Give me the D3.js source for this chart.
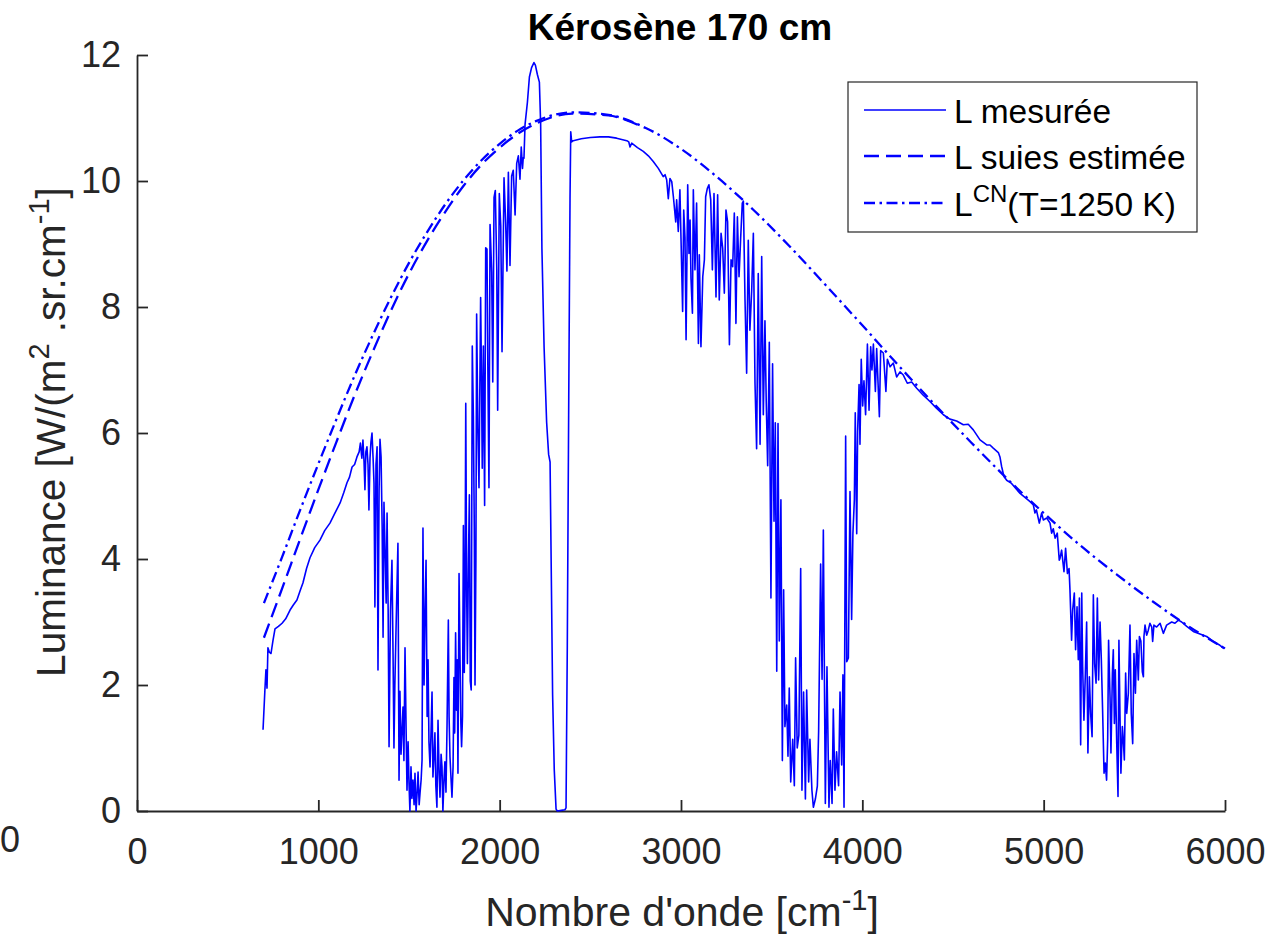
<!DOCTYPE html>
<html><head><meta charset="utf-8">
<script src="https://cdn.jsdelivr.net/npm/d3@7/dist/d3.min.js"></script>
<style>body{margin:0;background:#fff}text{font-family:"Liberation Sans",Arial,Helvetica,sans-serif}</style>
</head><body><svg id="c" width="1271" height="936"></svg>
<script>
const xTicks=[0,1000,2000,3000,4000,5000,6000];
const yTicks=[0,2,4,6,8,10,12];
const planckNu=[700,800,900,1000,1100,1200,1300,1400,1500,1600,1700,1800,1900,2000,2100,2200,2400,2600,2800,3000,3200,3400,3600,3800,4000,4200,4400,4600,4800,5000,5200,5400,5600,5800,6000];
const lcnL=[3.30,4.03,4.78,5.51,6.22,6.91,7.55,8.15,8.70,9.19,9.63,10.01,10.33,10.59,10.80,10.95,11.09,11.05,10.85,10.51,10.06,9.54,8.96,8.34,7.71,7.07,6.45,5.85,5.27,4.73,4.22,3.76,3.33,2.93,2.58];
const suiesNu=[700,800,900,1000,1100,1200,1300,1400,1500,1600,1700,1800,1900,2000,2100,2200,2400,2600,2800];
const suiesL=[2.75,3.53,4.32,5.10,5.86,6.60,7.29,7.94,8.53,9.05,9.51,9.92,10.26,10.53,10.75,10.91,11.07,11.04,10.84];
const measured=[
[695,1.29],[705,1.9],[711,2.24],[717,1.95],[722,2.59],[730,2.52],[739,2.5],[750,2.71],[761,2.89],[780,2.93],[800,2.98],[820,3.05],[844,3.19],[862,3.27],[882,3.35],[900,3.5],[915,3.62],[935,3.85],[954,4.02],[980,4.18],[1009,4.3],[1035,4.45],[1064,4.57],[1090,4.72],[1120,4.89],[1140,5.05],[1158,5.21],[1172,5.3],[1186,5.46],[1200,5.5],[1213,5.62],[1225,5.7],[1232,5.84],
[1240,5.6],[1246,5.89],[1252,5.55],[1257,5.1],[1262,5.7],[1268,5.78],[1274,5.5],[1279,4.78],[1285,5.6],[1290,5.85],[1296,6.0],[1302,5.6],[1307,5.2],[1312,3.24],[1318,5.5],[1324,5.78],[1329,2.24],[1335,5.1],[1340,5.9],[1346,5.62],[1352,4.5],[1357,2.76],[1362,4.9],[1368,4.14],[1374,3.3],[1379,4.73],[1385,3.2],[1390,1.02],[1398,3.2],[1406,3.98],[1412,2.5],[1417,1.0],[1422,2.0],[1428,2.82],[1434,3.6],[1439,4.25],[1445,0.49],[1450,1.9],[1456,0.9],[1461,1.24],[1467,1.65],[1472,0.8],[1478,2.59],[1484,1.3],[1489,0.33],[1495,1.1],[1500,0.44],[1505,0.0],[1511,0.7],[1516,0.2],[1522,0.49],[1528,0.1],[1533,0.6],[1539,0.0],[1545,0.3],[1550,0.62],[1556,0.1],[1561,0.29],[1567,0.5],[1572,0.81],[1577,4.49],[1583,2.0],[1588,3.03],[1594,3.98],[1600,1.5],[1605,2.4],[1610,1.1],[1616,0.7],[1622,1.3],[1627,1.89],[1632,0.54],[1638,0.9],[1643,1.24],[1648,0.4],[1654,0.06],[1660,1.44],[1666,0.6],[1671,0.22],[1677,0.9],[1682,0.7],[1687,0.0],[1693,0.5],[1698,0.78],[1704,0.3],[1710,1.4],[1717,3.03],[1721,1.5],[1726,0.86],[1732,0.5],[1737,0.22],[1743,0.7],[1748,2.12],[1752,1.24],[1757,2.83],[1762,1.6],[1766,2.4],[1770,0.6],[1776,3.77],[1781,2.5],[1786,1.4],[1790,1.02],[1795,1.5],[1800,4.53],[1805,2.2],[1809,3.43],[1813,6.47],[1818,3.5],[1822,2.34],[1828,4.0],[1833,5.02],[1838,2.06],[1843,1.92],[1849,7.38],[1855,6.27],[1860,4.5],[1864,2.0],[1869,4.0],[1873,7.89],[1880,6.0],[1886,5.13],[1890,6.5],[1895,8.15],[1900,6.8],[1904,5.44],[1910,7.38],[1917,4.85],[1923,8.94],[1930,8.92],[1935,7.0],[1941,5.13],[1947,9.31],[1956,8.55],[1962,6.81],[1969,9.74],[1976,9.85],[1984,8.6],[1989,6.36],[1998,9.80],[2006,9.29],[2013,7.29],[2024,10.05],[2033,9.34],[2040,8.57],[2048,10.14],[2057,8.66],[2066,10.08],[2075,10.17],[2085,9.46],[2094,10.28],[2103,10.40],[2112,10.03],[2119,10.54],[2126,10.2],[2130,10.37],
[2134,10.36],[2140,10.9],[2153,11.25],[2164,11.65],[2176,11.80],[2189,11.88],[2197,11.84],[2208,11.69],[2219,11.57],[2226,10.9],[2233,8.93],[2245,7.36],[2259,6.17],[2270,5.66],[2278,5.54],[2283,4.21],[2292,1.84],[2301,0.66],[2311,0.03],[2318,0.0],[2340,0.01],[2360,0.02],[2366,0.05],[2373,2.63],[2381,6.57],[2388,9.72],[2392,10.78],[2397,10.62],[2406,10.64],[2450,10.67],[2500,10.69],[2553,10.70],[2600,10.70],[2645,10.68],[2701,10.64],[2712,10.62],[2719,10.54],[2728,10.6],[2760,10.53],[2792,10.47],[2820,10.4],[2847,10.31],[2875,10.2],[2902,10.07],
[2912,10.1],[2921,10.02],[2930,9.72],[2939,10.04],[2949,9.99],[2958,9.75],[2971,9.35],[2976,9.70],[2985,9.2],[2994,9.86],[3000,9.09],[3009,7.93],[3015,9.54],[3022,9.1],[3028,7.48],[3037,9.94],[3044,8.85],[3050,9.38],[3055,8.46],[3063,7.9],[3068,9.86],[3077,8.59],[3086,9.65],[3096,7.42],[3101,8.83],[3110,7.37],[3120,8.48],[3129,8.75],[3136,9.75],[3145,9.88],[3154,9.94],[3164,9.7],[3173,8.59],[3182,9.8],[3193,8.16],[3202,9.78],[3211,8.11],[3221,9.17],[3230,8.93],[3239,8.22],[3248,9.54],[3257,9.35],[3267,7.40],[3276,8.75],[3285,8.64],[3294,9.49],[3303,7.74],[3311,9.43],[3320,8.48],[3329,9.09],[3338,9.65],[3344,9.68],[3353,8.11],[3362,6.95],[3371,9.06],[3380,7.63],[3390,8.27],[3399,9.17],[3408,6.8],
[3417,5.75],[3426,8.53],[3436,5.82],[3445,8.80],[3454,6.29],[3463,7.78],[3470,6.5],[3478,5.48],[3487,7.44],[3496,3.38],[3505,7.10],[3513,4.60],[3520,6.16],[3528,2.22],[3535,6.15],[3542,2.70],[3551,4.94],[3559,0.80],[3566,3.51],[3573,1.34],[3583,1.68],[3590,0.87],[3597,1.95],[3605,0.46],[3616,1.14],[3625,0.40],[3632,2.43],[3641,1.0],[3650,1.2],[3660,3.85],[3667,0.33],[3676,1.89],[3686,0.19],[3693,1.92],[3704,0.46],[3711,1.14],[3722,0.33],[3730,0.06],[3741,0.19],[3752,0.4],[3759,1.27],[3770,3.92],[3778,2.09],[3785,4.46],[3796,0.12],[3805,2.29],[3816,0.06],[3823,0.80],[3833,0.12],[3840,1.62],[3849,0.33],[3858,0.94],[3869,0.40],[3877,1.89],[3886,0.73],[3893,2.16],[3899,0.06],[3908,5.95],[3914,2.37],[3923,2.43],[3932,5.07],[3941,3.04],[3948,4.40],[3956,4.94],[3961,6.32],[3969,4.40],[3974,6.02],[3982,6.77],[3987,5.82],[3994,7.17],[4002,6.43],[4009,6.83],[4018,6.29],[4028,7.41],[4037,6.36],[4046,7.37],[4053,7.0],[4061,7.41],[4072,6.66],[4079,7.34],[4094,6.26],[4101,7.31],[4116,7.27],[4130,6.66],[4138,7.17],[4153,7.05],[4171,7.11],[4189,6.89],[4208,6.97],[4226,6.92],[4248,6.79],[4272,6.81],[4300,6.71],[4336,6.60],[4373,6.50],[4410,6.39],[4447,6.29],[4483,6.22],[4520,6.19],[4557,6.13],[4584,6.14],[4612,6.05],[4649,5.89],[4686,5.81],[4704,5.81],[4722,5.76],[4750,5.69],[4759,5.62],[4768,5.47],[4781,5.31],[4796,5.25],[4823,5.20],[4870,5.04],[4925,4.91],[4943,4.86],[4952,4.73],[4960,4.78],[4976,4.57],[4989,4.73],[4998,4.62],[5017,4.65],[5035,4.57],[5044,4.41],[5053,4.48],[5063,4.33],[5075,4.41],[5086,3.98],[5090,4.01],[5099,4.14],[5112,3.80],[5121,4.17],[5131,3.77],[5140,3.85],[5145,3.51],[5154,2.71],[5160,3.19],
[5169,3.46],[5176,2.56],[5184,3.24],[5191,2.40],[5197,3.38],[5204,1.05],[5210,3.46],[5215,2.29],[5222,1.44],[5230,2.19],[5237,3.0],[5244,0.92],[5252,2.13],[5259,1.55],[5267,1.18],[5274,3.43],[5281,2.34],[5289,2.03],[5296,3.38],[5303,2.08],[5311,3.0],[5318,2.40],[5325,1.60],[5333,0.60],[5340,0.76],[5347,0.49],[5353,1.13],[5358,2.71],[5366,1.81],[5371,0.92],[5379,2.19],[5384,2.56],[5390,1.39],[5395,2.24],[5403,1.07],[5410,0.23],[5415,2.71],[5421,1.50],[5426,0.6],[5434,1.34],[5439,1.13],[5445,0.81],[5452,2.19],[5458,1.55],[5467,1.87],[5476,2.95],[5483,1.55],[5491,1.07],[5498,2.50],[5506,1.87],[5513,2.71],[5522,2.08],[5528,2.77],[5536,2.7],[5544,2.21],[5550,2.13],[5553,2.77],[5559,2.95],[5568,2.79],[5577,2.87],[5586,2.98],[5596,2.92],[5601,2.69],[5608,2.95],[5623,2.92],[5642,2.98],[5660,2.82],[5678,2.95],[5706,3.0],[5724,2.98],[5743,3.03],[5761,3.0],[5789,2.93],[5825,2.85],[5862,2.81],[5899,2.77],[5936,2.69],[5972,2.63],[5994,2.58],[6000,2.6]
];
const legendLabels=["L mesurée","L suies estimée","LCN"];

const svg=d3.select('#c');
const x=d3.scaleLinear().domain([0,6000]).range([137,1225]);
const y=d3.scaleLinear().domain([0,12]).range([811,55]);
const axCol="#262626";

// axes
const gx=svg.append('g').attr('transform','translate(0,811)')
  .call(d3.axisBottom(x).tickValues(xTicks).tickFormat(d3.format('d')).tickSizeInner(-11).tickSizeOuter(0).tickPadding(27));
const gy=svg.append('g').attr('transform','translate(137,0)')
  .call(d3.axisLeft(y).tickValues(yTicks).tickFormat(d3.format('d')).tickSizeInner(-11).tickSizeOuter(0).tickPadding(16));
[gx,gy].forEach(g=>{
  g.select('.domain').attr('stroke',axCol).attr('stroke-width',1.8);
  g.selectAll('.tick line').attr('stroke',axCol).attr('stroke-width',1.8);
  g.selectAll('.tick text').attr('fill',axCol).style('font-size','36px');
});

// curves
const line=d3.line().x(d=>x(d[0])).y(d=>y(d[1]));
const smooth=d3.line().x(d=>x(d[0])).y(d=>y(d[1])).curve(d3.curveMonotoneX);
const suies=suiesNu.map((n,i)=>[n,suiesL[i]]);
const lcn=planckNu.map((n,i)=>[n,lcnL[i]]);
svg.append('path').datum(measured).attr('d',line).attr('fill','none').attr('stroke','#0000ff').attr('stroke-width',1.6).attr('stroke-linejoin','round');
svg.append('path').datum(suies).attr('d',smooth).attr('fill','none').attr('stroke','#0000ff').attr('stroke-width',2.3).attr('stroke-dasharray','15,7');
svg.append('path').datum(lcn).attr('d',smooth).attr('fill','none').attr('stroke','#0000ff').attr('stroke-width',2.3).attr('stroke-dasharray','11,4.5,2.5,4.5');

// title
svg.append('text').attr('x',680).attr('y',40).attr('text-anchor','middle').style('font-size','37px').style('font-weight','bold').attr('fill','#000').text('Kérosène 170 cm');

// x label
const xl=svg.append('text').attr('x',682).attr('y',926).attr('text-anchor','middle').style('font-size','41px').attr('fill',axCol);
xl.append('tspan').text("Nombre d'onde [cm");
xl.append('tspan').attr('dy',-16).style('font-size','29px').text('-1');
xl.append('tspan').attr('dy',16).text(']');

// y label
const yl=svg.append('text').attr('transform','translate(65,432) rotate(-90)').attr('text-anchor','middle').style('font-size','40.5px').attr('fill',axCol);
yl.append('tspan').text('Luminance [W/(m');
yl.append('tspan').attr('dy',-16).style('font-size','29px').text('2');
yl.append('tspan').attr('dy',16).text(' .sr.cm');
yl.append('tspan').attr('dy',-16).style('font-size','29px').text('-1');
yl.append('tspan').attr('dy',16).text(']');

// stray label
svg.append('text').attr('x',0).attr('y',852).style('font-size','36px').attr('fill',axCol).text('0');

// legend
const lg=svg.append('g');
lg.append('rect').attr('x',848).attr('y',82).attr('width',349).attr('height',150).attr('fill','#fff').attr('stroke',axCol).attr('stroke-width',1.2);
const rows=[{y:110,dash:null,w:1.5},{y:156,dash:'15,7',w:2.3},{y:203,dash:'11,4.5,2.5,4.5',w:2.3}];
rows.forEach((r,i)=>{
  lg.append('line').attr('x1',864).attr('x2',946).attr('y1',r.y).attr('y2',r.y).attr('stroke','#0000ff').attr('stroke-width',r.w).attr('stroke-dasharray',r.dash);
  const t=lg.append('text').attr('x',954).attr('y',r.y+13).style('font-size','33.5px').attr('fill','#000');
  if(i<2){t.text(legendLabels[i]);}
  else{
    t.append('tspan').text('L');
    t.append('tspan').attr('dy',-14).style('font-size','24px').text('CN');
    t.append('tspan').attr('dy',14).text('(T=1250 K)');
  }
});
</script></body></html>
